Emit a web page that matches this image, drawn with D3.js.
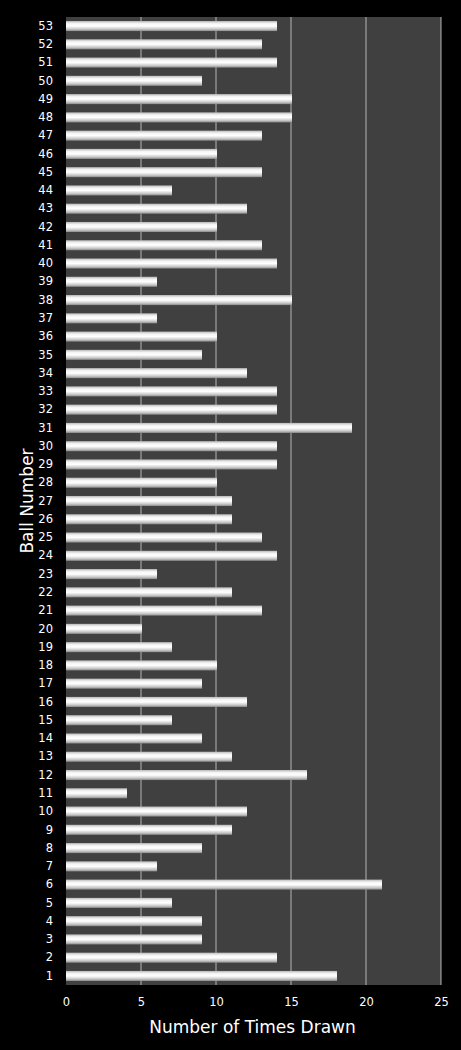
<!DOCTYPE html>
<html>
<head>
<meta charset="utf-8">
<script src="https://cdn.jsdelivr.net/npm/d3@7"></script>
<style>
  body { margin: 0; background: #000; }
  text { font-family: "DejaVu Sans", Verdana, sans-serif; fill: #fff; }
</style>
</head>
<body>
<div id="chart"></div>
<script>
// ball numbers 1..53 and how often each was drawn
var balls = d3.range(1, 54);
var timesDrawn = [18, 14, 9, 9, 7, 21, 6, 9, 11, 12,
                  4, 16, 11, 9, 7, 12, 9, 10, 7, 5,
                  13, 11, 6, 14, 13, 11, 11, 10, 14, 14,
                  19, 14, 14, 12, 9, 10, 6, 15, 6, 14,
                  13, 10, 12, 7, 13, 10, 13, 15, 15, 9,
                  14, 13, 14];
var xTicks = [0, 5, 10, 15, 20, 25];

var svgWidth = 461;
var svgHeight = 1050;
var margin = { top: 17, right: 20, bottom: 65, left: 66 };
var width = svgWidth - margin.left - margin.right;
var height = svgHeight - margin.top - margin.bottom;

var svg = d3.select("#chart")
  .append("svg")
  .attr("width", svgWidth)
  .attr("height", svgHeight);

svg.append("rect")
  .attr("width", svgWidth)
  .attr("height", svgHeight)
  .attr("fill", "#000");

// cylinder-ish shading for the bars
var grad = svg.append("defs").append("linearGradient")
  .attr("id", "barGrad")
  .attr("x1", 0).attr("y1", 0).attr("x2", 0).attr("y2", 1);
grad.append("stop").attr("offset", "0%").attr("stop-color", "#b8b8b8");
grad.append("stop").attr("offset", "25%").attr("stop-color", "#f4f4f4");
grad.append("stop").attr("offset", "50%").attr("stop-color", "#ffffff");
grad.append("stop").attr("offset", "80%").attr("stop-color", "#c8c8c8");
grad.append("stop").attr("offset", "100%").attr("stop-color", "#8a8a8a");

var chartGroup = svg.append("g")
  .attr("transform", `translate(${margin.left}, ${margin.top})`);

var xScale = d3.scaleLinear()
  .domain([0, 25])
  .range([0, width]);

var yScale = d3.scaleBand()
  .domain(balls.slice().reverse())
  .range([0, height])
  .paddingInner(0.45)
  .paddingOuter(0.22);

// plot area
chartGroup.append("rect")
  .attr("width", width)
  .attr("height", height)
  .attr("fill", "#404040");

// vertical gridlines
chartGroup.selectAll(".grid")
  .data(xTicks.slice(1))
  .enter()
  .append("line")
  .attr("x1", d => xScale(d))
  .attr("x2", d => xScale(d))
  .attr("y1", 0)
  .attr("y2", height)
  .attr("stroke", "#b4b4b4")
  .attr("stroke-width", 1);

// bars
chartGroup.selectAll(".bar")
  .data(balls)
  .enter()
  .append("rect")
  .attr("x", 0)
  .attr("y", d => yScale(d))
  .attr("width", d => xScale(timesDrawn[d - 1]) + 1)
  .attr("height", yScale.bandwidth())
  .attr("fill", "url(#barGrad)");

// x axis
var bottomAxis = d3.axisBottom(xScale)
  .tickValues(xTicks)
  .tickSize(0)
  .tickPadding(13);

var xAxis = chartGroup.append("g")
  .attr("transform", `translate(0, ${height})`)
  .call(bottomAxis);
xAxis.select(".domain").remove();
xAxis.selectAll("text")
  .attr("fill", "#fff")
  .style("font-size", "11.5px");

// y axis
var leftAxis = d3.axisLeft(yScale)
  .tickSize(0)
  .tickPadding(13);

var yAxis = chartGroup.append("g")
  .call(leftAxis);
yAxis.select(".domain").remove();
yAxis.selectAll("text")
  .attr("fill", "#fff")
  .style("font-size", "11.5px");

// axis titles
svg.append("text")
  .attr("x", margin.left + width / 2 - 1)
  .attr("y", 1033)
  .attr("text-anchor", "middle")
  .style("font-size", "17px")
  .text("Number of Times Drawn");

svg.append("text")
  .attr("transform", `translate(33, ${margin.top + height / 2}) rotate(-90)`)
  .attr("text-anchor", "middle")
  .style("font-size", "17px")
  .text("Ball Number");
</script>
</body>
</html>
